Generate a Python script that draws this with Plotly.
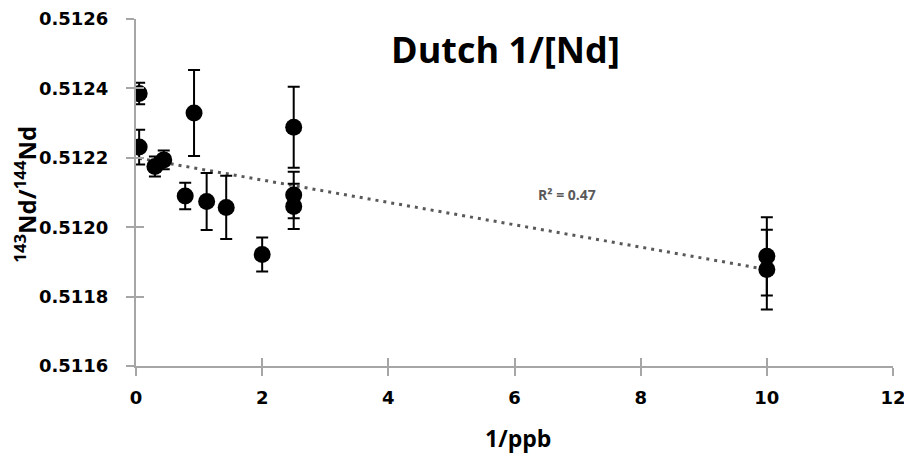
import numpy as np
import plotly.graph_objects as go

# Data
inv_ppb = [0.05, 0.05, 0.30, 0.44, 0.92, 0.78, 1.12, 1.43, 2.00, 2.50, 2.50, 2.50, 10.0, 10.0]
nd_ratio = [0.512385, 0.512231, 0.512175, 0.512194, 0.512329, 0.512090, 0.512074,
            0.512057, 0.511921, 0.512288, 0.512093, 0.512060, 0.511916, 0.511878]
nd_err = [0.000031, 0.000050, 0.000029, 0.000027, 0.000124, 0.000038, 0.000082,
          0.000091, 0.000049, 0.000117, 0.000067, 0.000065, 0.000113, 0.000115]
y_ticks = [0.5116, 0.5118, 0.5120, 0.5122, 0.5124, 0.5126]
x_ticks = [0, 2, 4, 6, 8, 10, 12]
title_text = "Dutch 1/[Nd]"
r2_label = "R² = 0.47"

# Linear least-squares trendline (as in the spreadsheet chart)
slope, intercept = np.polyfit(inv_ppb, nd_ratio, 1)
trend_x = [min(inv_ppb), max(inv_ppb)]
trend_y = [slope * v + intercept for v in trend_x]

AX = "#a6a6a6"
FONT = "DejaVu Sans"

fig = go.Figure()
fig.add_trace(go.Scatter(
    x=trend_x, y=trend_y, mode="lines",
    line=dict(color="#595959", width=3, dash="3px,5px"),
    hoverinfo="skip", showlegend=False))
fig.add_trace(go.Scatter(
    x=inv_ppb, y=nd_ratio, mode="markers",
    marker=dict(color="black", size=17),
    error_y=dict(type="data", array=nd_err, visible=True, color="black",
                 thickness=2, width=6),
    showlegend=False))
# helper trace for the inner half of the crossing tick marks
fig.add_trace(go.Scatter(x=[None], y=[None], xaxis="x2", yaxis="y2",
                         showlegend=False, hoverinfo="skip"))

axis_common = dict(showgrid=False, zeroline=False, showline=True,
                   linecolor=AX, linewidth=2, tickcolor=AX, tickwidth=2,
                   ticklen=8, ticks="outside", automargin=False)

# page body keeps its default 8px margin, so the figure is 8px smaller
fig.update_layout(
    width=904, height=447,
    margin=dict(l=128, r=19, t=11, b=89, autoexpand=False),
    plot_bgcolor="white", paper_bgcolor="white",
    xaxis=dict(range=[0, 12], tickvals=x_ticks, ticktext=[str(v) for v in x_ticks],
               tickfont=dict(family=FONT, size=18, color="black", weight="bold"),
               ticklabelstandoff=6, **axis_common),
    yaxis=dict(range=[0.5116, 0.5126], tickvals=y_ticks,
               ticktext=[f"{v:.4f}" for v in y_ticks],
               tickfont=dict(family=FONT, size=18, color="black", weight="bold"),
               ticklabelstandoff=14, **axis_common),
    xaxis2=dict(range=[0, 12], tickvals=x_ticks, overlaying="x", ticks="inside",
                ticklen=8, tickcolor=AX, tickwidth=2, showticklabels=False,
                showgrid=False, zeroline=False, showline=False, anchor="y2",
                automargin=False),
    yaxis2=dict(range=[0.5116, 0.5126], tickvals=y_ticks, overlaying="y", ticks="inside",
                ticklen=8, tickcolor=AX, tickwidth=2, showticklabels=False,
                showgrid=False, zeroline=False, showline=False, anchor="x2",
                automargin=False),
    annotations=[
        dict(text=title_text, xref="paper", yref="paper", x=0.488, y=0.911,
             xanchor="center", yanchor="middle", showarrow=False,
             font=dict(family="Open Sans", size=36, color="black", weight="bold")),
        dict(text=r2_label, xref="paper", yref="paper", x=0.569, y=0.493,
             xanchor="center", yanchor="middle", showarrow=False,
             font=dict(family="Open Sans", size=14, color="#595959", weight="bold")),
        dict(text="1/ppb", xref="paper", yref="paper", x=0.505, y=-0.2075,
             xanchor="center", yanchor="middle", showarrow=False,
             font=dict(family="Open Sans", size=23, color="black", weight="bold")),
        dict(text="<sup>143</sup>Nd/<sup>144</sup>Nd", xref="paper", yref="paper",
             x=-0.146, y=0.495, xanchor="center", yanchor="middle", textangle=-90,
             showarrow=False,
             font=dict(family="Open Sans", size=24, color="black", weight="bold")),
    ],
)

fig.write_html("out.html")
